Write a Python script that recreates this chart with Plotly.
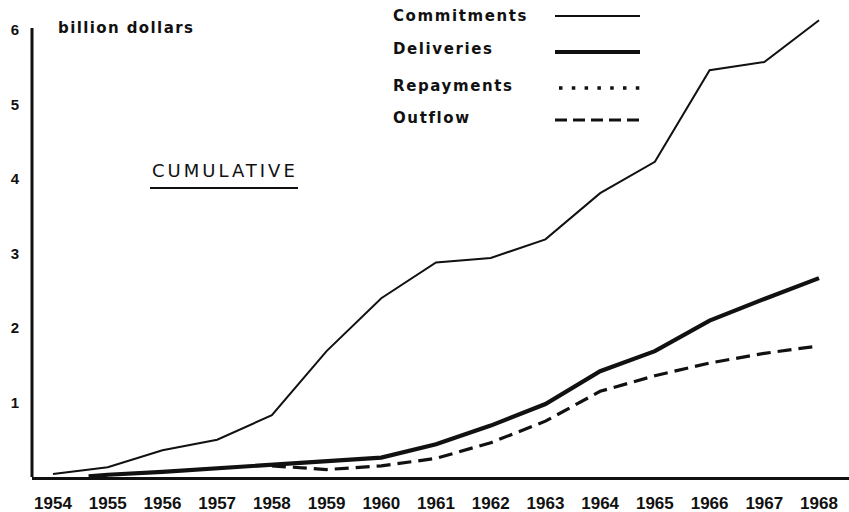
import plotly.graph_objects as go

# ---- data (billion dollars, cumulative) ----
years = [1954, 1955, 1956, 1957, 1958, 1959, 1960, 1961, 1962, 1963, 1964, 1965, 1966, 1967, 1968]
commitments = [0.04, 0.13, 0.36, 0.50, 0.83, 1.69, 2.40, 2.88, 2.94, 3.19, 3.81, 4.23, 5.46, 5.57, 6.13]

deliveries_years = [1954.65, 1955, 1956, 1957, 1958, 1959, 1960, 1961, 1962, 1963, 1964, 1965, 1966, 1967, 1968]
deliveries = [0.01, 0.03, 0.07, 0.12, 0.17, 0.21, 0.26, 0.44, 0.69, 0.98, 1.42, 1.69, 2.10, 2.39, 2.67]

outflow_years = [1958, 1959, 1960, 1961, 1962, 1963, 1964, 1965, 1966, 1967, 1968]
outflow = [0.15, 0.10, 0.15, 0.25, 0.46, 0.75, 1.15, 1.36, 1.53, 1.66, 1.76]

year_ticks = years
year_labels = [str(y) for y in years]
y_ticks = [1, 2, 3, 4, 5, 6]
y_labels = ["1", "2", "3", "4", "5", "6"]

legend_names = ["Commitments", "Deliveries", "Repayments", "Outflow"]

# ---- layout geometry ----
W, H = 849, 512
ML, MR, MT, MB = 32, 0, 12, 35
PW, PH = W - ML - MR, H - MT - MB
PX_PER_UNIT = 74.5
Y_MAX = PH / PX_PER_UNIT
X_MIN, X_MAX = 1953.616, 1968.548
AXIS_TOP = 6.027


def px(xp):
    return (xp - ML) / PW


def py(yp):
    return (H - MB - yp) / PH


FONT = "DejaVu Sans"
INK = "#111111"

fig = go.Figure()
fig.add_trace(go.Scatter(x=years, y=commitments, mode="lines", name="Commitments",
                         line=dict(color=INK, width=2)))
fig.add_trace(go.Scatter(x=deliveries_years, y=deliveries, mode="lines", name="Deliveries",
                         line=dict(color=INK, width=4.2)))
fig.add_trace(go.Scatter(x=outflow_years, y=outflow, mode="lines", name="Outflow",
                         line=dict(color=INK, width=3.2, dash="14px,7px")))

shapes = []
# y axis line
shapes.append(dict(type="line", xref="paper", yref="y", x0=0, x1=0, y0=0, y1=AXIS_TOP,
                   line=dict(color=INK, width=3)))
# CUMULATIVE underline
shapes.append(dict(type="line", xref="paper", yref="paper", x0=px(150), x1=px(298),
                   y0=py(188), y1=py(188), line=dict(color=INK, width=2)))
# legend samples
sample_y = [16, 52, 88, 120]
sample_styles = [dict(width=2, dash="solid"), dict(width=4, dash="solid"),
                 dict(width=3.5, dash="3.5px,9.3px"), dict(width=3.2, dash="12px,6px")]
sample_x0 = [555, 555, 559, 555]
for yy, st, x0 in zip(sample_y, sample_styles, sample_x0):
    shapes.append(dict(type="line", xref="paper", yref="paper", x0=px(x0), x1=px(640),
                       y0=py(yy), y1=py(yy), line=dict(color=INK, **st)))

annotations = []
text_y = [16, 49, 86, 118]
for name, yy in zip(legend_names, text_y):
    annotations.append(dict(xref="paper", yref="paper", x=px(391), y=py(yy), xanchor="left",
                            yanchor="middle", showarrow=False,
                            text=f'<span style="letter-spacing:1.6px">{name}</span>',
                            font=dict(family=FONT, size=15, color=INK, weight="bold")))
annotations.append(dict(xref="paper", yref="paper", x=px(56), y=py(28), xanchor="left",
                        yanchor="middle", showarrow=False,
                        text='<span style="letter-spacing:1.4px">billion dollars</span>',
                        font=dict(family=FONT, size=15, color=INK, weight="bold")))
annotations.append(dict(xref="paper", yref="paper", x=px(150), y=py(170), xanchor="left",
                        yanchor="middle", showarrow=False,
                        text='<span style="letter-spacing:3px">CUMULATIVE</span>',
                        font=dict(family=FONT, size=18, color=INK)))

fig.update_layout(
    width=W, height=H,
    margin=dict(l=ML, r=MR, t=MT, b=MB, pad=0, autoexpand=False),
    paper_bgcolor="white", plot_bgcolor="white",
    showlegend=False,
    hovermode=False,
    shapes=shapes,
    annotations=annotations,
    xaxis=dict(range=[X_MIN, X_MAX], tickmode="array", tickvals=year_ticks, ticktext=year_labels,
               showgrid=False, zeroline=False, showline=True, linecolor=INK, linewidth=3,
               ticks="", ticklabelstandoff=9, automargin=False,
               tickfont=dict(family="Liberation Sans", size=17, color=INK, weight="bold")),
    yaxis=dict(range=[0, Y_MAX], tickmode="array", tickvals=y_ticks, ticktext=y_labels,
               showgrid=False, zeroline=False, showline=False, ticks="", ticklabelstandoff=12,
               automargin=False,
               tickfont=dict(family="Liberation Sans", size=15, color=INK, weight="bold")),
)

fig.write_html(
    "out.html",
    config={"displayModeBar": False, "staticPlot": True},
    post_script="document.body.style.margin='0';document.body.style.overflow='hidden';",
)
